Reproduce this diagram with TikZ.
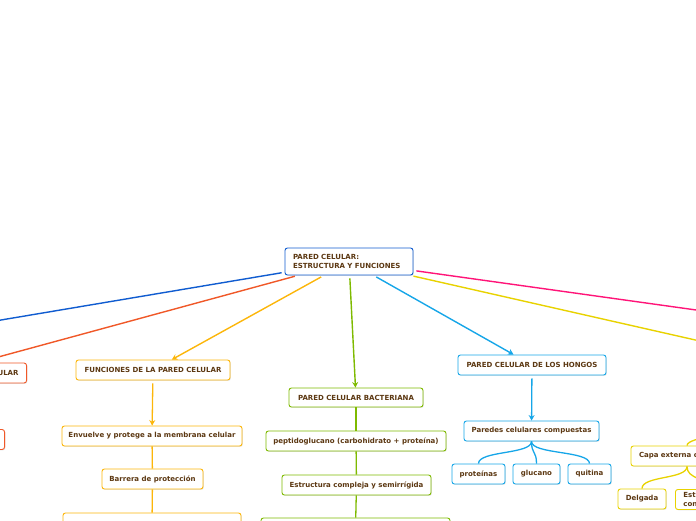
\documentclass[tikz,border=0pt]{standalone}
\usepackage{fontspec}
\setmainfont{DejaVu Sans}
\usetikzlibrary{arrows.meta,shadows}
\definecolor{txt}{RGB}{92,56,18}
\definecolor{cblue}{RGB}{16,92,208}
\definecolor{corange}{RGB}{240,88,40}
\definecolor{camber}{RGB}{252,182,10}
\definecolor{cgreen}{RGB}{126,186,0}
\definecolor{csky}{RGB}{22,166,232}
\definecolor{cpink}{RGB}{255,20,120}
\definecolor{cyellow}{RGB}{232,210,0}
\newcommand{\boxfont}{\fontsize{7}{8.2}\selectfont\bfseries}
\tikzset{
	box/.style={draw=#1, line width=0.9pt, rounded corners=2.5pt, fill=white,
		text=txt, font=\boxfont, minimum height=20pt, inner xsep=4pt,
		drop shadow={shadow xshift=0.8pt, shadow yshift=-0.9pt, opacity=0.2}},
	link/.style={draw=#1, line width=1.4pt, shorten <=3pt},
	twig/.style={draw=#1, line width=1.3pt},
}
\begin{document}
\begin{tikzpicture}[x=1pt,y=-1pt,>={Stealth[length=5.5pt,width=6pt]}]
	\useasboundingbox (0,0) rectangle (696,520);
	\clip (0,0) rectangle (696,520);
	% central topic
	\node[box=cblue, minimum height=27, text width=112, inner xsep=8pt, align=left] (cen) at (349,261.5)
	{PARED CELULAR:\\ESTRUCTURA Y FUNCIONES};
	% branches leaving the picture
	\coordinate (blueend) at (-100,337);
	\coordinate (pinkend) at (800,324.5);
	\coordinate (yellend) at (800,363.7);
	\draw[link=cblue,->] (cen) -- (blueend);
	\draw[link=cpink,->] (cen) -- (pinkend);
	\draw[link=cyellow,->] (cen) -- (yellend);
	% orange branch (left)
	\node[box=corange, minimum width=174, text width=158, inner xsep=8pt, align=right, anchor=east] (vege) at (27,373) {ULAR};
	\node[box=corange, minimum width=120, anchor=east] (vege2) at (5,439.5) {};
	\draw[link=corange,->] (cen) -- (vege);
	\draw[twig=corange] (vege) -- (vege2);
	% funciones
	\node[box=camber, minimum width=154] (fun) at (153,370) {FUNCIONES DE LA PARED CELULAR};
	\node[box=camber, minimum width=180] (env) at (152,436) {Envuelve y protege a la membrana celular};
	\node[box=camber, minimum width=101] (bar) at (152.5,479) {Barrera de protección};
	\node[box=camber, minimum width=178] (fun4) at (152,523) {};
	\draw[link=camber,->] (cen) -- (fun);
	\draw[twig=camber,->,shorten <=3pt] (fun) -- (env);
	\draw[twig=camber] (env) -- (bar);
	\draw[twig=camber] (bar) -- (fun4);
	% bacteriana
	\node[box=cgreen, minimum width=134, minimum height=19] (bac) at (356,397.5) {PARED CELULAR BACTERIANA};
	\node[box=cgreen, minimum width=180] (pep) at (356,441) {peptidoglucano (carbohidrato + proteína)};
	\node[box=cgreen, minimum width=149] (est) at (356.5,485) {Estructura compleja y semirrígida};
	\node[box=cgreen, minimum width=189] (bac4) at (355.5,528) {};
	\draw[link=cgreen,->] (cen) -- (bac);
	\draw[twig=cgreen] (bac) -- (pep);
	\draw[twig=cgreen] (pep) -- (est);
	\draw[twig=cgreen] (est) -- (bac4);
	% hongos
	\node[box=csky, minimum width=148] (hon) at (532,365) {PARED CELULAR DE LOS HONGOS};
	\node[box=csky, minimum width=135] (comp) at (531.5,431) {Paredes celulares compuestas};
	\node[box=csky, minimum width=53] (prot) at (478.5,474) {proteínas};
	\node[box=csky, minimum width=47] (glu) at (536.5,474) {glucano};
	\node[box=csky, minimum width=43] (qui) at (589.5,474) {quitina};
	\draw[link=csky,->] (cen) -- (hon);
	\draw[twig=csky,->,shorten <=3pt] (hon) -- (comp);
	\foreach \leaf in {prot,glu,qui}{
		\draw[twig=csky] (comp.south) .. controls +(0,13) and +(0,-13) .. (\leaf.north);
	}
	% capa externa (right)
	\coordinate (capaup) at (740,425);
	\node[box=cyellow, minimum width=112, text width=96, inner xsep=8pt, align=left] (capa) at (687,456) {Capa externa c};
	\node[box=cyellow, minimum width=48] (del) at (642,499) {Delgada};
	\node[box=cyellow, minimum width=60, text width=44, inner xsep=8pt, align=left, anchor=north west] (esta) at (675,489) {Esta\\con};
	\draw[twig=cyellow] (capa.north) .. controls +(0,-9) and +(0,9) .. (capaup);
	\draw[twig=cyellow] (capa.south) .. controls +(0,13) and +(0,-13) .. (del.north);
	\draw[twig=cyellow] (capa.south) .. controls +(0,13) and +(0,-13) .. (esta.north);
\end{tikzpicture}
\end{document}
